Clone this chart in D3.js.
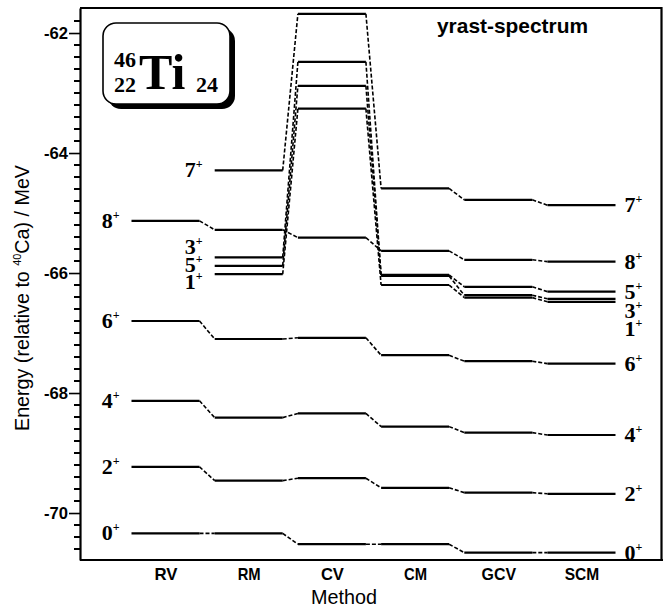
<!DOCTYPE html>
<html>
<head>
<meta charset="utf-8">
<script src="https://cdn.jsdelivr.net/npm/d3@7"></script>
<style>
  body { margin: 0; background: #fff; }
  svg { display: block; }
</style>
</head>
<body>
<div id="chart"></div>
<script>
// methods along the x axis
const methods = ["RV", "RM", "CV", "CM", "GCV", "SCM"];

// level energies (MeV, relative to 40Ca) per state, one value per method (null = not computed)
const states = ["0", "2", "4", "6", "8", "7", "3", "5", "1"];
const e0 = [-70.34, -70.34, -70.52, -70.52, -70.66, -70.66];
const e2 = [-69.23, -69.46, -69.42, -69.58, -69.66, -69.68];
const e4 = [-68.13, -68.41, -68.34, -68.56, -68.66, -68.70];
const e6 = [-66.80, -67.10, -67.08, -67.37, -67.47, -67.51];
const e8 = [-65.13, -65.28, -65.41, -65.63, -65.78, -65.81];
const e7 = [null, -64.29, -61.68, -64.59, -64.78, -64.87];
const e3 = [null, -65.74, -62.48, -66.05, -66.37, -66.43];
const e5 = [null, -65.88, -62.88, -66.03, -66.23, -66.31];
const e1 = [null, -66.02, -63.26, -66.20, -66.41, -66.48];

// y tick labels
const yTicks = [-62, -64, -66, -68, -70];

const series = [e0, e2, e4, e6, e8, e7, e3, e5, e1];
const W = 663, H = 610;
const sans = "Liberation Sans, Arial, sans-serif";
const serif = "Liberation Serif, Times New Roman, serif";

const svg = d3.select("#chart").append("svg")
  .attr("width", W).attr("height", H);

const x = d3.scalePoint().domain(methods).range([165.5, 581.5]);
const y = d3.scaleLinear().domain([-70.783, -61.583]).range([560, 8]);
const half = 34;

// frame
svg.append("path")
  .attr("d", `M80,${y.range()[1]}H661.5V560`)
  .attr("fill", "none").attr("stroke", "#000").attr("stroke-width", 2.2);

// minor ticks every 0.2 MeV
const minor = d3.range(-353, -308).map(k => k / 5)
  .filter(v => Math.abs(v - Math.round(v / 2) * 2) > 1e-6);
svg.append("g").selectAll("rect").data(minor).join("rect")
  .attr("x", 74).attr("width", 6)
  .attr("y", d => Math.round(y(d)) - 1).attr("height", 2)
  .attr("fill", "#000");

// y axis
const yAxis = svg.append("g")
  .attr("transform", "translate(80,0)")
  .call(d3.axisLeft(y).tickValues(yTicks).tickSize(11).tickSizeOuter(0)
    .tickPadding(1).tickFormat(d => String(d)));
yAxis.select(".domain").attr("stroke-width", 2.2);
yAxis.selectAll("line").attr("stroke-width", 1.6);
yAxis.selectAll("text")
  .attr("font-family", sans)
  .attr("font-size", 17).attr("font-weight", "bold")
  .attr("textLength", 24).attr("lengthAdjust", "spacingAndGlyphs");

// x axis
const xAxis = svg.append("g")
  .attr("transform", "translate(0,560)")
  .call(d3.axisBottom(x).tickSize(0).tickPadding(8));
xAxis.select(".domain").attr("d", "M80,0H663").attr("stroke-width", 2.2);
xAxis.selectAll("text")
  .attr("font-family", sans)
  .attr("font-size", 17).attr("font-weight", "bold")
  .attr("textLength", d => d.length * 11.5).attr("lengthAdjust", "spacingAndGlyphs");

// axis titles
svg.append("text")
  .attr("x", 344).attr("y", 604)
  .attr("text-anchor", "middle")
  .attr("font-family", sans)
  .attr("font-size", 21)
  .attr("textLength", 66).attr("lengthAdjust", "spacingAndGlyphs")
  .text("Method");

const yt = svg.append("text")
  .attr("transform", "translate(29,298) rotate(-90)")
  .attr("text-anchor", "middle")
  .attr("font-family", sans)
  .attr("font-size", 20)
  .attr("textLength", 266).attr("lengthAdjust", "spacingAndGlyphs");
yt.append("tspan").text("Energy (relative to ");
yt.append("tspan").attr("font-size", 11).attr("dy", -8).text("40");
yt.append("tspan").attr("dy", 8).text("Ca) / MeV");

// title
svg.append("text")
  .attr("x", 437).attr("y", 33)
  .attr("font-family", sans)
  .attr("font-size", 21).attr("font-weight", "bold")
  .attr("textLength", 151).attr("lengthAdjust", "spacingAndGlyphs")
  .text("yrast-spectrum");

// nucleus box
const box = svg.append("g");
box.append("rect").attr("x", 108).attr("y", 28).attr("width", 127).attr("height", 81)
  .attr("rx", 13).attr("fill", "#000");
box.append("rect").attr("x", 103).attr("y", 23).attr("width", 127).attr("height", 81)
  .attr("rx", 13).attr("fill", "#fff").attr("stroke", "#000").attr("stroke-width", 1.6);
box.append("text").attr("x", 114).attr("y", 67).attr("font-family", serif)
  .attr("font-weight", "bold").attr("font-size", 22).text("46");
box.append("text").attr("x", 114).attr("y", 92).attr("font-family", serif)
  .attr("font-weight", "bold").attr("font-size", 22).text("22");
box.append("text").attr("x", 139).attr("y", 89).attr("font-family", serif)
  .attr("font-weight", "bold").attr("font-size", 50).text("Ti");
box.append("text").attr("x", 196).attr("y", 92).attr("font-family", serif)
  .attr("font-weight", "bold").attr("font-size", 22).text("24");

// levels and connectors
const plot = svg.append("g");
series.forEach(vals => {
  vals.forEach((v, i) => {
    if (v == null) return;
    plot.append("line")
      .attr("x1", x(methods[i]) - half).attr("x2", x(methods[i]) + half)
      .attr("y1", y(v)).attr("y2", y(v))
      .attr("stroke", "#000").attr("stroke-width", 2.2);
    const nxt = vals[i + 1];
    if (nxt != null && i + 1 < methods.length) {
      plot.append("line")
        .attr("x1", x(methods[i]) + half).attr("x2", x(methods[i + 1]) - half)
        .attr("y1", y(v)).attr("y2", y(nxt))
        .attr("stroke", "#000").attr("stroke-width", 1.6)
        .attr("stroke-dasharray", "4,2");
    }
  });
});

// spin labels (pixel nudges keep crowded labels apart)
const leftNudge = { "3": -10, "5": -1, "1": 8 };
const rightNudge = { "3": 12, "1": 27 };
function spinLabel(xx, yy, s, anchor) {
  const t = plot.append("text")
    .attr("x", xx).attr("y", yy + 7)
    .attr("text-anchor", anchor)
    .attr("font-family", serif).attr("font-size", 22).attr("font-weight", "bold");
  t.append("tspan").text(s);
  t.append("tspan").attr("font-size", 12).attr("dy", -9).text("+");
}
series.forEach((vals, si) => {
  const s = states[si];
  const first = vals.findIndex(v => v != null);
  spinLabel(x(methods[first]) - half - 12, y(vals[first]) + (leftNudge[s] || 0), s, "end");
  const last = vals.length - 1;
  spinLabel(x(methods[last]) + half + 9, y(vals[last]) + (rightNudge[s] || 0), s, "start");
});
</script>
</body>
</html>
